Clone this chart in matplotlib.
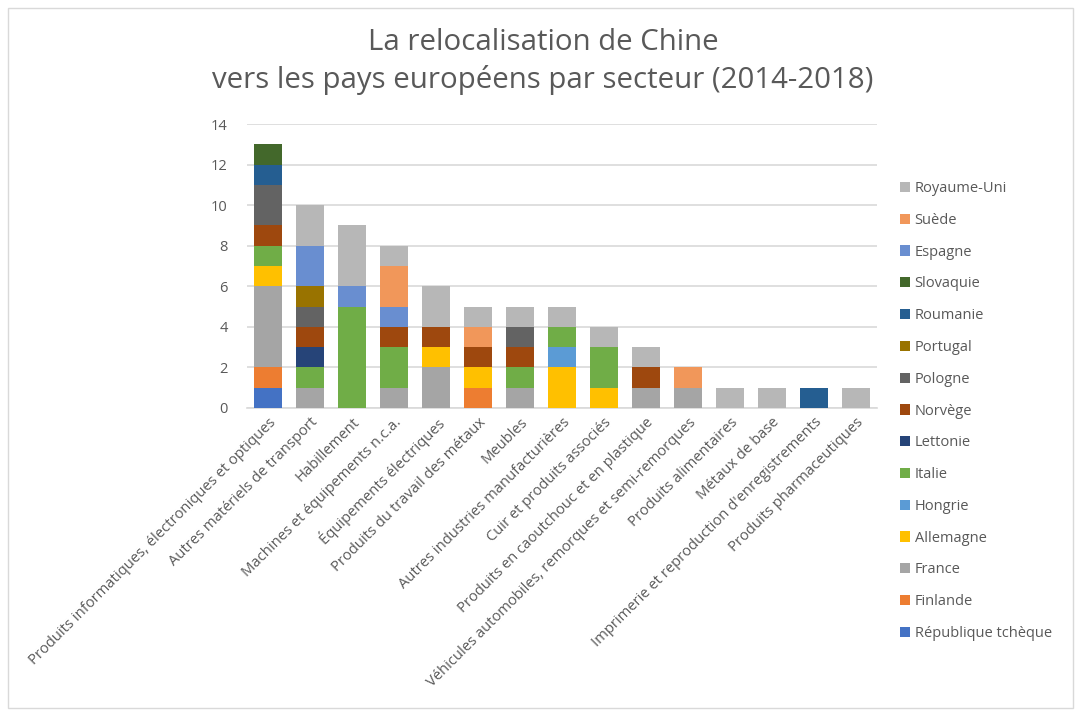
import matplotlib
matplotlib.use('Agg')
import matplotlib.pyplot as plt
from matplotlib.patches import Rectangle
import numpy as np

plt.rcParams['font.family'] = ['Open Sans', 'DejaVu Sans']

# ======================
# DATA
# ======================
secteurs = [
    "Produits informatiques, électroniques et optiques",
    "Autres matériels de transport",
    "Habillement",
    "Machines et équipements n.c.a.",
    "Équipements électriques",
    "Produits du travail des métaux",
    "Meubles",
    "Autres industries manufacturières",
    "Cuir et produits associés",
    "Produits en caoutchouc et en plastique",
    "Véhicules automobiles, remorques et semi-remorques",
    "Produits alimentaires",
    "Métaux de base",
    "Imprimerie et reproduction d'enregistrements",
    "Produits pharmaceutiques",
]

pays = ["République tchèque", "Finlande", "France", "Allemagne", "Hongrie",
        "Italie", "Lettonie", "Norvège", "Pologne", "Portugal", "Roumanie",
        "Slovaquie", "Espagne", "Suède", "Royaume-Uni"]

rep_tcheque = [1, 0, 0, 0, 0, 0, 0, 0, 0, 0, 0, 0, 0, 0, 0]
finlande    = [1, 0, 0, 0, 0, 1, 0, 0, 0, 0, 0, 0, 0, 0, 0]
france      = [4, 1, 0, 1, 2, 0, 1, 0, 0, 1, 1, 0, 0, 0, 0]
allemagne   = [1, 0, 0, 0, 1, 1, 0, 2, 1, 0, 0, 0, 0, 0, 0]
hongrie     = [0, 0, 0, 0, 0, 0, 0, 1, 0, 0, 0, 0, 0, 0, 0]
italie      = [1, 1, 5, 2, 0, 0, 1, 1, 2, 0, 0, 0, 0, 0, 0]
lettonie    = [0, 1, 0, 0, 0, 0, 0, 0, 0, 0, 0, 0, 0, 0, 0]
norvege     = [1, 1, 0, 1, 1, 1, 1, 0, 0, 1, 0, 0, 0, 0, 0]
pologne     = [2, 1, 0, 0, 0, 0, 1, 0, 0, 0, 0, 0, 0, 0, 0]
portugal    = [0, 1, 0, 0, 0, 0, 0, 0, 0, 0, 0, 0, 0, 0, 0]
roumanie    = [1, 0, 0, 0, 0, 0, 0, 0, 0, 0, 0, 0, 0, 1, 0]
slovaquie   = [1, 0, 0, 0, 0, 0, 0, 0, 0, 0, 0, 0, 0, 0, 0]
espagne     = [0, 2, 1, 1, 0, 0, 0, 0, 0, 0, 0, 0, 0, 0, 0]
suede       = [0, 0, 0, 2, 0, 1, 0, 0, 0, 0, 1, 0, 0, 0, 0]
royaume_uni = [0, 2, 3, 1, 2, 1, 1, 1, 1, 1, 0, 1, 1, 0, 1]

valeurs = [rep_tcheque, finlande, france, allemagne, hongrie, italie, lettonie,
           norvege, pologne, portugal, roumanie, slovaquie, espagne, suede,
           royaume_uni]

couleurs = ['#4472C4', '#ED7D31', '#A5A5A5', '#FFC000', '#5B9BD5', '#70AD47',
            '#264478', '#9E480E', '#636363', '#997300', '#255E91', '#43682B',
            '#698ED0', '#F1975A', '#B7B7B7']

# ======================
# FIGURE
# ======================
W, H = 1082, 716
fig = plt.figure(figsize=(W / 100, H / 100), dpi=100)
ax = fig.add_axes([247 / W, 1 - 408 / H, 630 / W, 284 / H])

x = np.arange(len(secteurs))
bas = np.zeros(len(secteurs))
for nom, vals, c in zip(pays, valeurs, couleurs):
    ax.bar(x, vals, bottom=bas, width=0.67, color=c, label=nom, zorder=3)
    bas += np.array(vals)

ax.set_xlim(-0.5, len(secteurs) - 0.5)
ax.set_ylim(0, 14)
ax.set_yticks(range(0, 15, 2))
ax.yaxis.grid(True, color='#D9D9D9', linewidth=1.2, zorder=0)
for s in ['top', 'right', 'left']:
    ax.spines[s].set_visible(False)
ax.spines['bottom'].set_color('#D9D9D9')
ax.spines['bottom'].set_linewidth(1.2)
ax.tick_params(axis='both', length=0, colors='#595959', labelsize=10.5)
ax.tick_params(axis='y', pad=14)
ax.tick_params(axis='x', pad=5)
ax.set_xticks(x)
ax.set_xticklabels(secteurs, rotation=45, ha='right', rotation_mode='anchor',
                   fontsize=10.6, color='#595959')

# legende (ordre inverse)
h, l = ax.get_legend_handles_labels()
leg = fig.legend(h[::-1], l[::-1], loc='upper left',
                 bbox_to_anchor=(887 / W, 1 - 168 / H), frameon=False,
                 fontsize=10.5, handlelength=0.7, handleheight=0.7,
                 handletextpad=0.3, labelspacing=1.15, labelcolor='#595959')

# titre
fig.text(543 / W, 1 - 42 / H, "La relocalisation de Chine", ha='center',
         va='center', fontsize=21.2, color='#595959')
fig.text(543 / W, 1 - 80 / H, "vers les pays européens par secteur (2014-2018)",
         ha='center', va='center', fontsize=21.2, color='#595959')

# cadre
fig.patches.append(Rectangle((8 / W, 8 / H), 1065 / W, 700 / H,
                             transform=fig.transFigure, fill=False,
                             edgecolor='#D9D9D9', linewidth=1))

plt.savefig('out.png', dpi=100)
